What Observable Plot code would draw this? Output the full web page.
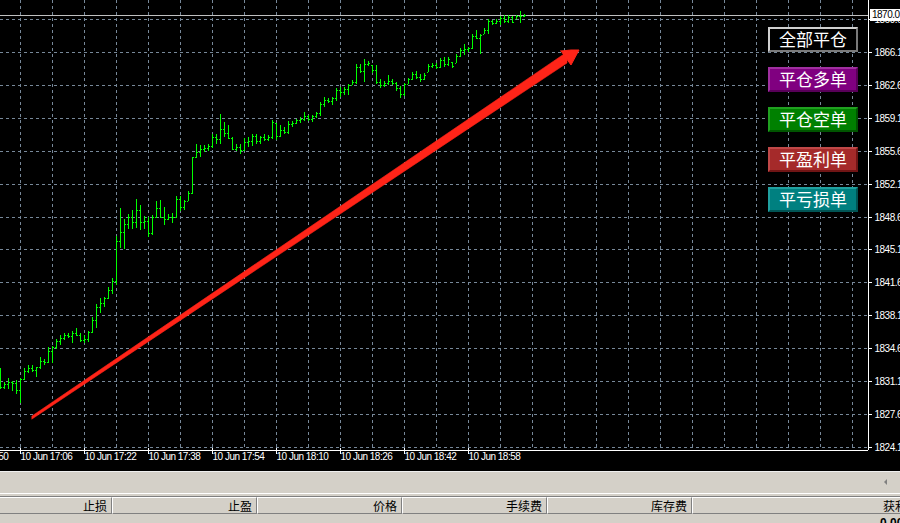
<!DOCTYPE html>
<html>
<head>
<meta charset="utf-8">
<script src="https://cdn.jsdelivr.net/npm/d3@7"></script>
<script src="https://cdn.jsdelivr.net/npm/@observablehq/plot@0.6"></script>
<style>
  html, body { margin: 0; padding: 0; background: #d4d0c8; }
  #wrap { position: relative; width: 900px; height: 523px; overflow: hidden; background: #d4d0c8; }
  #chart { position: absolute; left: 0; top: 0; width: 900px; height: 471px; background: #000; }
  #chart svg text { letter-spacing: -0.5px; }
  .btn { position: absolute; left: 768px; width: 90px; height: 25px; box-sizing: border-box;
         border: 2px solid; color: #fff; font-family: "Noto Sans CJK SC", sans-serif; font-size: 17px;
         line-height: 20px; text-align: center; letter-spacing: 0px; }
  .bidbox { position: absolute; left: 870px; width: 32px; height: 12px; background: #fff; color: #000;
         font-family: "Liberation Sans", Arial, sans-serif; font-size: 10px; line-height: 12px; letter-spacing: -0.5px; padding-left: 2px; box-sizing: border-box; }
  .hline { position: absolute; left: 0; width: 900px; height: 1px; }
  .cell { position: absolute; top: 497px; height: 17px; box-sizing: border-box;
          border-top: 1px solid #ffffff; border-left: 1px solid #ffffff;
          border-right: 1px solid #808080; border-bottom: 1px solid #808080;
          background: #d4d0c8; font-family: "Noto Sans CJK SC", sans-serif; font-size: 12px; line-height: 15px;
          text-align: right; padding-right: 4px; color: #000; }
</style>
</head>
<body>
<div id="wrap">
  <div id="chart"></div>
</div>
<script>
// ---------- data ----------
const dayISO = "2021-06-10";
const times = [
 "17:01","17:02","17:03","17:04","17:05","17:06","17:07","17:08","17:09","17:10",
 "17:11","17:12","17:13","17:14","17:15","17:16","17:17","17:18","17:19","17:20",
 "17:21","17:22","17:23","17:24","17:25","17:26","17:27","17:28","17:29","17:30",
 "17:31","17:32","17:33","17:34","17:35","17:36","17:37","17:38","17:39","17:40",
 "17:41","17:42","17:43","17:44","17:45","17:46","17:47","17:48","17:49","17:50",
 "17:51","17:52","17:53","17:54","17:55","17:56","17:57","17:58","17:59","18:00",
 "18:01","18:02","18:03","18:04","18:05","18:06","18:07","18:08","18:09","18:10",
 "18:11","18:12","18:13","18:14","18:15","18:16","18:17","18:18","18:19","18:20",
 "18:21","18:22","18:23","18:24","18:25","18:26","18:27","18:28","18:29","18:30",
 "18:31","18:32","18:33","18:34","18:35","18:36","18:37","18:38","18:39","18:40",
 "18:41","18:42","18:43","18:44","18:45","18:46","18:47","18:48","18:49","18:50",
 "18:51","18:52","18:53","18:54","18:55","18:56","18:57","18:58","18:59","19:00",
 "19:01","19:02","19:03","19:04","19:05","19:06","19:07","19:08","19:09","19:10",
 "19:11","19:12"
];
const opens = [
 1831.0,1830.5,1830.8,1831.0,1830.9,1830.2,1831.4,1832.2,1832.5,1832.3,
 1832.6,1833.3,1833.2,1834.3,1834.7,1835.4,1835.7,1836.0,1835.9,1836.2,
 1836.0,1835.5,1835.6,1836.3,1837.6,1839.0,1839.4,1840.0,1840.8,1841.8,
 1846.0,1847.0,1847.8,1848.5,1848.0,1849.3,1848.0,1848.1,1846.9,1848.6,
 1849.5,1848.6,1848.3,1848.5,1848.6,1850.5,1849.6,1850.3,1851.1,1854.9,
 1855.5,1855.8,1855.9,1856.1,1857.0,1856.8,1857.9,1857.5,1856.9,1855.8,
 1856.0,1855.7,1856.5,1856.6,1857.1,1856.6,1857.0,1856.8,1857.0,1858.5,
 1857.2,1857.8,1857.6,1858.4,1858.5,1858.8,1859.0,1859.3,1859.0,1859.3,
 1859.6,1860.6,1861.0,1860.9,1861.2,1862.0,1861.8,1862.1,1862.6,1862.9,
 1864.5,1864.0,1864.8,1864.7,1864.2,1862.9,1862.6,1862.8,1863.0,1862.8,
 1862.2,1861.6,1862.7,1863.2,1863.7,1863.4,1863.2,1863.9,1864.6,1864.7,
 1864.5,1865.2,1864.8,1865.0,1864.9,1865.6,1866.3,1866.4,1866.5,1867.8,
 1867.6,1868.0,1868.4,1869.4,1869.1,1869.4,1869.7,1869.4,1869.8,1869.6,
 1869.9,1869.9
];
const highs = [
 1832.5,1831.0,1831.5,1831.1,1831.2,1831.5,1832.5,1832.8,1832.8,1832.6,
 1833.7,1833.5,1834.7,1834.9,1835.6,1836.0,1836.2,1836.2,1836.4,1836.8,
 1836.2,1836.0,1836.4,1837.9,1839.3,1839.9,1840.1,1841.1,1842.1,1846.5,
 1849.5,1848.3,1848.9,1849.3,1850.5,1849.8,1848.7,1848.5,1848.8,1850.3,
 1850.4,1849.6,1848.9,1849.0,1850.8,1850.8,1850.4,1851.3,1854.9,1856.3,
 1856.2,1856.2,1856.3,1857.4,1857.4,1859.5,1858.6,1858.3,1857.0,1856.3,
 1856.3,1856.9,1857.0,1857.4,1857.4,1857.1,1857.4,1857.3,1858.8,1858.5,
 1858.3,1858.1,1858.7,1858.7,1859.0,1859.2,1859.7,1859.4,1859.4,1859.7,
 1860.8,1861.3,1861.2,1861.3,1862.2,1862.3,1862.3,1862.7,1863.1,1864.8,
 1864.8,1865.3,1865.1,1864.7,1864.7,1863.2,1863.0,1863.6,1863.2,1862.9,
 1862.5,1862.8,1863.3,1863.9,1864.1,1863.7,1863.8,1864.8,1864.9,1864.9,
 1865.4,1865.5,1865.5,1865.0,1865.9,1866.5,1866.9,1866.6,1868.0,1868.4,
 1868.0,1868.6,1869.6,1869.5,1869.6,1869.9,1870.0,1870.0,1869.9,1870.0,
 1870.4,1870.1
];
const lows = [
 1830.3,1830.3,1830.3,1830.1,1829.8,1828.8,1831.2,1832.0,1832.1,1831.6,
 1832.4,1832.8,1833.1,1833.1,1834.5,1835.0,1835.5,1835.7,1835.2,1835.9,
 1835.3,1835.2,1835.3,1836.2,1836.8,1838.4,1839.0,1839.8,1840.4,1841.3,
 1845.3,1845.1,1847.3,1847.3,1847.4,1847.2,1847.3,1846.4,1846.6,1848.4,
 1848.4,1847.7,1848.2,1847.9,1848.4,1849.2,1849.3,1850.3,1851.0,1854.8,
 1854.9,1855.5,1855.6,1855.9,1856.3,1856.3,1857.0,1856.8,1855.7,1855.6,
 1855.2,1855.6,1856.0,1856.1,1856.3,1856.3,1856.6,1856.6,1856.8,1856.7,
 1857.0,1857.4,1857.4,1858.1,1858.4,1858.5,1858.7,1858.7,1858.6,1859.1,
 1859.3,1860.2,1860.7,1860.4,1860.9,1861.3,1861.5,1861.5,1862.6,1862.7,
 1863.8,1862.9,1864.6,1863.8,1862.7,1862.2,1862.3,1862.6,1862.6,1861.9,
 1861.2,1861.4,1862.7,1863.1,1863.2,1862.9,1863.1,1863.9,1864.4,1864.3,
 1864.4,1864.5,1864.6,1864.4,1864.9,1865.5,1865.8,1866.1,1866.4,1867.4,
 1865.9,1868.0,1868.0,1868.9,1869.0,1868.9,1869.1,1869.1,1869.2,1869.6,
 1869.2,1869.8
];
const closes = [
 1830.5,1830.8,1831.0,1830.9,1830.2,1831.4,1832.2,1832.5,1832.3,1832.6,
 1833.3,1833.2,1834.3,1834.7,1835.4,1835.7,1836.0,1835.9,1836.2,1836.0,
 1835.5,1835.6,1836.3,1837.6,1839.0,1839.4,1840.0,1840.8,1841.8,1846.0,
 1847.0,1847.8,1848.5,1848.0,1849.3,1848.0,1848.1,1846.9,1848.6,1849.5,
 1848.6,1848.3,1848.5,1848.6,1850.5,1849.6,1850.3,1851.1,1854.9,1855.5,
 1855.8,1855.9,1856.1,1857.0,1856.8,1857.9,1857.5,1856.9,1855.8,1856.0,
 1855.7,1856.5,1856.6,1857.1,1856.6,1857.0,1856.8,1857.0,1858.6,1857.2,
 1857.8,1857.6,1858.4,1858.5,1858.8,1859.0,1859.3,1859.0,1859.3,1859.6,
 1860.6,1861.0,1860.9,1861.2,1862.0,1861.8,1862.1,1862.6,1862.9,1864.5,
 1864.0,1864.8,1864.9,1864.2,1862.9,1862.6,1862.8,1863.0,1862.8,1862.2,
 1861.6,1862.7,1863.2,1863.7,1863.4,1863.2,1863.6,1864.6,1864.7,1864.5,
 1865.2,1864.8,1865.3,1864.6,1865.6,1866.3,1866.4,1866.5,1867.8,1867.6,
 1867.9,1868.4,1869.4,1869.1,1869.4,1869.7,1869.4,1869.8,1869.3,1869.9,
 1869.9,1870.0
];
const priceTicks = [1824.1,1827.6,1831.1,1834.6,1838.1,1841.6,1845.1,1848.6,1852.1,1855.6,1859.1,1862.6,1866.1,1869.6];
const timeTicks = ["16:50","17:06","17:22","17:38","17:54","18:10","18:26","18:42","18:58"];
// red arrow annotation (time, price band)
const arrowShaftTimes = ["17:09:00","19:22:45"];
const arrowShaftLo = [1827.15, 1864.92];
const arrowShaftHi = [1827.38, 1866.04];
const arrowHeadTimes = ["19:21:15","19:23:45","19:25:50"];
const arrowHeadLo = [1866.21, 1864.69, 1866.31];
const arrowHeadHi = [1866.21, 1866.27, 1866.31];
const buttonLabels = ["全部平仓","平仓多单","平仓空单","平盈利单","平亏损单"];
const headerLabels = ["止损","止盈","价格","手续费","库存费","获利"];

// ---------- build ----------
const toDate = s => new Date(`${dayISO}T${s.length === 5 ? s + ":00" : s}Z`);
const bars = times.map((s, i) => ({t: toDate(s), open: opens[i], high: highs[i], low: lows[i], close: closes[i]}));
const xDomain = [toDate("17:01"), toDate("20:38")];
const yDomain = [1823.81, 1871.59];
const gridTimes = d3.range(0, 27).map(k => new Date(+toDate("17:06") + k * 8 * 60000));
const tickDates = timeTicks.map(toDate);
const shaft = arrowShaftTimes.map((s, i) => ({t: toDate(s), lo: arrowShaftLo[i], hi: arrowShaftHi[i]}));
const head = arrowHeadTimes.map((s, i) => ({t: toDate(s), lo: arrowHeadLo[i], hi: arrowHeadHi[i]}));
const lastClose = closes[closes.length - 1];
const fmt = d3.utcFormat("%d %b %H:%M");
const gridColor = "#778899";
const red = "#ff2418";
const green = "#00ff00";

const plot = Plot.plot({
  width: 900, height: 471,
  marginLeft: 0, marginRight: 32, marginTop: 0, marginBottom: 21,
  style: {background: "black", color: "white", fontFamily: "'Liberation Sans', Arial, sans-serif", fontSize: "10px"},
  x: {type: "utc", domain: xDomain, round: true, axis: null},
  y: {domain: yDomain, round: true, axis: null},
  marks: [
    Plot.ruleY(priceTicks, {y: d => d, stroke: gridColor, strokeDasharray: "3,3"}),
    Plot.ruleX(gridTimes, {x: d => d, stroke: gridColor, strokeDasharray: "3,3"}),
    Plot.ruleY([yDomain[0]], {y: d => d, stroke: "white"}),
    Plot.ruleX([xDomain[1]], {x: d => d, stroke: "white"}),
    Plot.ruleY([lastClose], {y: d => d, stroke: "#c0c0c0"}),
    Plot.areaY(shaft, {x: "t", y1: "lo", y2: "hi", fill: red, stroke: red, strokeWidth: 0.6}),
    Plot.areaY(head, {x: "t", y1: "lo", y2: "hi", fill: red, stroke: red, strokeWidth: 1}),
    Plot.ruleX(bars, {x: "t", y1: "low", y2: "high", stroke: green}),
    Plot.ruleY(bars, {y: "open", x1: "t", x2: "t", insetLeft: -1, insetRight: 0, stroke: green}),
    Plot.ruleY(bars, {y: "close", x1: "t", x2: "t", insetLeft: 1, insetRight: -2, stroke: green}),
    Plot.ruleY(priceTicks, {y: d => d, stroke: "white", insetLeft: 868, insetRight: -4}),
    Plot.text(priceTicks, {y: d => d, text: d => d.toFixed(1), frameAnchor: "right", dx: 6, textAnchor: "start", fill: "white"}),
    Plot.ruleX(tickDates, {x: d => d, stroke: "white", insetTop: 448, insetBottom: -4}),
    Plot.text(tickDates, {x: d => d, text: d => fmt(d), frameAnchor: "bottom", dy: 9, textAnchor: "start", fill: "white"})
  ]
});
document.getElementById("chart").appendChild(plot);

const wrap = document.getElementById("wrap");
// bid price box
const bid = document.createElement("div");
bid.className = "bidbox";
bid.textContent = lastClose.toFixed(1);
bid.style.top = (plot.scale("y").apply(lastClose) - 6) + "px";
wrap.appendChild(bid);

// buttons
const btnStyles = [
  {bg: "#000000", lt: "#d0d0d0", dk: "#7a7a7a"},
  {bg: "#800080", lt: "#a030a0", dk: "#580058"},
  {bg: "#008000", lt: "#20a020", dk: "#005400"},
  {bg: "#a52a2a", lt: "#c04848", dk: "#701515"},
  {bg: "#008080", lt: "#20a0a0", dk: "#005454"}
];
buttonLabels.forEach((lab, i) => {
  const b = document.createElement("div");
  b.className = "btn";
  b.textContent = lab;
  b.style.top = (27 + 40 * i) + "px";
  const s = btnStyles[i];
  b.style.background = s.bg;
  b.style.borderColor = `${s.lt} ${s.dk} ${s.dk} ${s.lt}`;
  wrap.appendChild(b);
});

// bottom panel
function line(top, color) {
  const d = document.createElement("div");
  d.className = "hline"; d.style.top = top + "px"; d.style.background = color;
  wrap.appendChild(d);
}
line(471, "#f0f0f0");
line(493, "#ffffff");
line(496, "#808080");
const arrowL = document.createElement("div");
arrowL.style.cssText = "position:absolute;left:884px;top:479px;width:0;height:0;border-top:3px solid transparent;border-bottom:3px solid transparent;border-right:3px solid #808080;";
wrap.appendChild(arrowL);
const cellEdges = [[-40,112],[112,257],[257,402],[402,547],[547,692],[692,912]];
headerLabels.forEach((lab, i) => {
  const c = document.createElement("div");
  c.className = "cell";
  c.style.left = cellEdges[i][0] + "px";
  c.style.width = (cellEdges[i][1] - cellEdges[i][0]) + "px";
  c.textContent = lab;
  wrap.appendChild(c);
});
const val = document.createElement("div");
val.style.cssText = "position:absolute;left:880px;top:516px;font-family:'Liberation Sans',Arial,sans-serif;font-size:12px;font-weight:bold;color:#000;";
val.textContent = "0.00";
wrap.appendChild(val);
</script>
</body>
</html>
